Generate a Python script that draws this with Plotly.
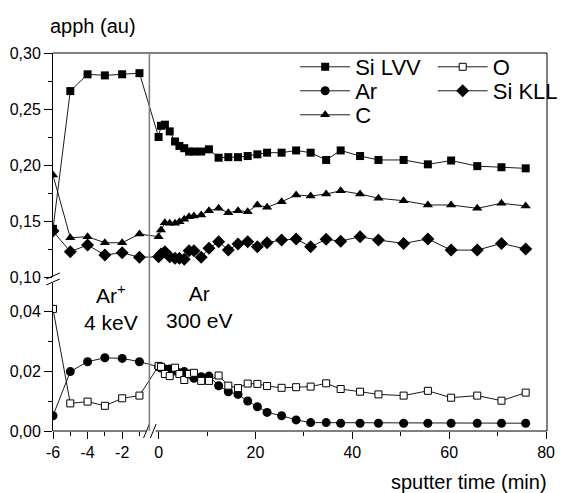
import plotly.graph_objects as go

# ---------------- data ----------------
T_LEFT = [-6, -5, -4, -3, -2, -1]            # 4 keV Ar+ sputtering (min)
T_RIGHT = [0, 0.5, 1.3, 2.3, 3.4, 4.3, 5.3, 6.3, 7.3, 8.8, 10.4, 12.4, 14.4, 16.4,
           18.4, 20.4, 22.4, 25.4, 28.4, 31.4, 34.6, 37.6, 41.6, 45.4, 50.6, 55.6,
           60.4, 65.8, 70.8, 75.8]           # 300 eV Ar sputtering (min)

SI_LVV_LEFT = [0.143, 0.266, 0.281, 0.280, 0.281, 0.282]
SI_LVV_RIGHT = [0.225, 0.235, 0.236, 0.230, 0.221, 0.217, 0.215, 0.212, 0.212, 0.212,
                0.214, 0.2065, 0.207, 0.207, 0.208, 0.2095, 0.211, 0.211, 0.213, 0.211,
                0.2045, 0.213, 0.208, 0.2045, 0.2045, 0.2006, 0.204, 0.199, 0.198, 0.197]

C_LEFT = [0.191, 0.135, 0.136, 0.1306, 0.1306, 0.1384]
C_RIGHT = [0.136, 0.142, 0.1485, 0.148, 0.148, 0.1494, 0.1515, 0.1538, 0.1544, 0.1553,
           0.1592, 0.1613, 0.1574, 0.1592, 0.1583, 0.1643, 0.1622, 0.1672, 0.1732, 0.1723,
           0.1741, 0.177, 0.1741, 0.1703, 0.1681, 0.1643, 0.1643, 0.1613, 0.1658, 0.1634]

SI_KLL_LEFT = [0.141, 0.1226, 0.1286, 0.1196, 0.1217, 0.1176]
SI_KLL_RIGHT = [0.118, 0.1205, 0.1226, 0.1181, 0.1167, 0.1167, 0.1158, 0.1235, 0.1235, 0.1176,
                0.1256, 0.1315, 0.1241, 0.1294, 0.1315, 0.127, 0.1306, 0.133, 0.1339, 0.127,
                0.1336, 0.132, 0.136, 0.133, 0.130, 0.134, 0.124, 0.124, 0.130, 0.125]

AR_LEFT = [0.0051, 0.0198, 0.0231, 0.0244, 0.0242, 0.0231]
AR_RIGHT = [0.0214, 0.021, 0.0207, 0.0207, 0.020, 0.0194, 0.0198, 0.019, 0.0176, 0.0181,
            0.0183, 0.0151, 0.0131, 0.0122, 0.0100, 0.0081, 0.0062, 0.0051, 0.0037, 0.0028,
            0.0028, 0.0026, 0.0026, 0.0026, 0.0026, 0.0026, 0.0026, 0.0026, 0.0026, 0.0026]

O_LEFT = [0.0407, 0.0092, 0.0098, 0.0084, 0.0109, 0.0118]
O_RIGHT = [0.0217, 0.0214, 0.019, 0.0183, 0.0211, 0.019, 0.017, 0.019, 0.0194, 0.0167,
           0.0167, 0.0185, 0.0151, 0.0143, 0.0158, 0.0157, 0.015, 0.0144, 0.0146, 0.0148,
           0.0159, 0.014, 0.0131, 0.0122, 0.0118, 0.0134, 0.0111, 0.0118, 0.0101, 0.0128]

X_MAJOR_LEFT = [-6, -4, -2]
X_MINOR_LEFT = [-5, -3, -1]
X_MAJOR_RIGHT = [0, 20, 40, 60, 80]
X_MINOR_RIGHT = [10, 30, 50, 70]
Y_UPPER_MAJOR = [0.10, 0.15, 0.20, 0.25, 0.30]
Y_UPPER_MINOR = [0.125, 0.175, 0.225, 0.275]
Y_LOWER_MAJOR = [0.00, 0.02, 0.04]
Y_LOWER_MINOR = [0.01, 0.03]

# ---------------- broken x scale ----------------
# the right part is plotted in its own minutes; the left (4 keV) part is
# compressed into a stretched segment placed before it
LEFT_START = -21.8     # axis position of t = -6
LEFT_STRETCH = 3.57    # axis units per minute in the left segment


def x_left(t):
    return LEFT_START + (t + 6) * LEFT_STRETCH


def xs(left, right):
    return [x_left(t) for t in left] + list(right)


# pixel geometry of the plot frame (for decorations)
PL, PR, PT, PB = 53, 563, 53, 431
W = 574
H = 493


def px(x):
    return (x - PL) / (PR - PL)


def py(y):
    return (PB - y) / (PB - PT)


FONT = "Liberation Sans, Arial, sans-serif"

fig = go.Figure()

common = dict(mode="lines+markers", line=dict(color="black", width=0.9))

fig.add_trace(go.Scatter(x=xs(T_LEFT, T_RIGHT), y=SI_LVV_LEFT + SI_LVV_RIGHT, name="Si LVV",
                         marker=dict(symbol="square", size=8, color="black"),
                         xaxis="x", yaxis="y2", legend="legend", **common))
fig.add_trace(go.Scatter(x=xs(T_LEFT, T_RIGHT), y=AR_LEFT + AR_RIGHT, name="Ar",
                         marker=dict(symbol="circle", size=9, color="black"),
                         xaxis="x", yaxis="y", legend="legend2", **common))
fig.add_trace(go.Scatter(x=xs(T_LEFT, T_RIGHT), y=C_LEFT + C_RIGHT, name="C",
                         marker=dict(symbol="triangle-up", size=9, color="black"),
                         xaxis="x", yaxis="y2", legend="legend3", **common))
fig.add_trace(go.Scatter(x=xs(T_LEFT, T_RIGHT), y=O_LEFT + O_RIGHT, name="O",
                         marker=dict(symbol="square", size=7, color="white",
                                     line=dict(color="black", width=1)),
                         xaxis="x", yaxis="y", legend="legend4", **common))
fig.add_trace(go.Scatter(x=xs(T_LEFT, T_RIGHT), y=SI_KLL_LEFT + SI_KLL_RIGHT, name="Si KLL",
                         marker=dict(symbol="diamond", size=10, color="black"),
                         xaxis="x", yaxis="y2", legend="legend5", **common))

x_major = [x_left(t) for t in X_MAJOR_LEFT] + X_MAJOR_RIGHT
x_major_text = [str(t) for t in X_MAJOR_LEFT] + [str(t) for t in X_MAJOR_RIGHT]
x_minor = [x_left(t) for t in X_MINOR_LEFT] + X_MINOR_RIGHT

tickfont = dict(family=FONT, size=16, color="black")


def legend_at(sample_left, center_y):
    return dict(x=px(sample_left + 3), y=py(center_y - 21), xanchor="left", yanchor="top",
                bgcolor="rgba(0,0,0,0)", font=dict(family=FONT, size=22, color="black"),
                itemwidth=50, tracegroupgap=0)


fig.update_layout(
    width=W, height=H,
    margin=dict(l=PL, r=W - PR, t=PT, b=H - PB),
    paper_bgcolor="white", plot_bgcolor="white",
    separators=",.",
    font=dict(family=FONT, color="black"),
    xaxis=dict(range=[LEFT_START, 80.2], tickvals=x_major, ticktext=x_major_text,
               ticks="outside", ticklen=7, tickwidth=1, tickcolor="black",
               minor=dict(tickvals=x_minor, ticks="outside", ticklen=4, tickcolor="black"),
               showline=False, showgrid=False, zeroline=False, tickfont=tickfont,
               anchor="y"),
    yaxis=dict(domain=[0, py(283)], range=[0, (PB - 283) * 0.02 / 60],
               tickvals=Y_LOWER_MAJOR, tickformat=".2f",
               ticks="outside", ticklen=8, tickwidth=1, tickcolor="black",
               minor=dict(tickvals=Y_LOWER_MINOR, ticks="outside", ticklen=4, tickcolor="black"),
               showline=True, linecolor="black", linewidth=1,
               showgrid=False, zeroline=False, tickfont=tickfont, anchor="x"),
    yaxis2=dict(domain=[py(277), 1], range=[0.10, 0.30],
                tickvals=Y_UPPER_MAJOR, tickformat=".2f",
                ticks="outside", ticklen=8, tickwidth=1, tickcolor="black",
                minor=dict(tickvals=Y_UPPER_MINOR, ticks="outside", ticklen=4, tickcolor="black"),
                showline=True, linecolor="black", linewidth=1,
                showgrid=False, zeroline=False, tickfont=tickfont, anchor="x"),
    legend=legend_at(300, 67),
    legend2=legend_at(300, 91),
    legend3=legend_at(300, 115),
    legend4=legend_at(442, 67),
    legend5=legend_at(442, 91),
    showlegend=True,
)

shapes = []
line_k = dict(color="black", width=1)
# top and right frame
shapes.append(dict(type="line", xref="paper", yref="paper", x0=0, x1=1, y0=1, y1=1, line=line_k))
shapes.append(dict(type="line", xref="paper", yref="paper", x0=1, x1=1, y0=0, y1=1, line=line_k))
# bottom axis line in two pieces (x break)
shapes.append(dict(type="line", xref="paper", yref="paper", x0=0, x1=px(149), y0=0, y1=0, line=line_k))
shapes.append(dict(type="line", xref="paper", yref="paper", x0=px(159), x1=1, y0=0, y1=0, line=line_k))
# x break marks
shapes.append(dict(type="line", xref="paper", yref="paper", x0=px(146.5), x1=px(152.5), y0=py(438), y1=py(424), line=line_k))
shapes.append(dict(type="line", xref="paper", yref="paper", x0=px(153.5), x1=px(159.5), y0=py(438), y1=py(424), line=line_k))
# y break marks
shapes.append(dict(type="line", xref="paper", yref="paper", x0=px(46), x1=px(60), y0=py(279), y1=py(273), line=line_k))
shapes.append(dict(type="line", xref="paper", yref="paper", x0=px(46), x1=px(60), y0=py(285), y1=py(279), line=line_k))
# separator between the two sputtering regimes
shapes.append(dict(type="line", xref="paper", yref="paper", x0=px(152.5), x1=px(152.5), y0=0, y1=1,
                   line=dict(color="#808080", width=1.6)))
fig.update_layout(shapes=shapes)

ann_font = dict(family=FONT, size=21, color="black")
fig.add_annotation(text="Ar<sup>+</sup><br>4 keV", xref="paper", yref="paper",
                   x=px(113), y=py(307), xanchor="center", yanchor="middle",
                   showarrow=False, font=ann_font, align="center")
fig.add_annotation(text="Ar<br>300 eV", xref="paper", yref="paper",
                   x=px(204), y=py(307), xanchor="center", yanchor="middle",
                   showarrow=False, font=ann_font, align="center")
fig.add_annotation(text="apph (au)", xref="paper", yref="paper",
                   x=px(48), y=py(26), xanchor="left", yanchor="middle",
                   showarrow=False, font=dict(family=FONT, size=20, color="black"))
fig.add_annotation(text="sputter time (min)", xref="paper", yref="paper",
                   x=px(565), y=py(482), xanchor="right", yanchor="middle",
                   showarrow=False, font=dict(family=FONT, size=20, color="black"))

fig.write_html("out.html", post_script="document.body.style.margin='0';",
               config={"displayModeBar": False})
